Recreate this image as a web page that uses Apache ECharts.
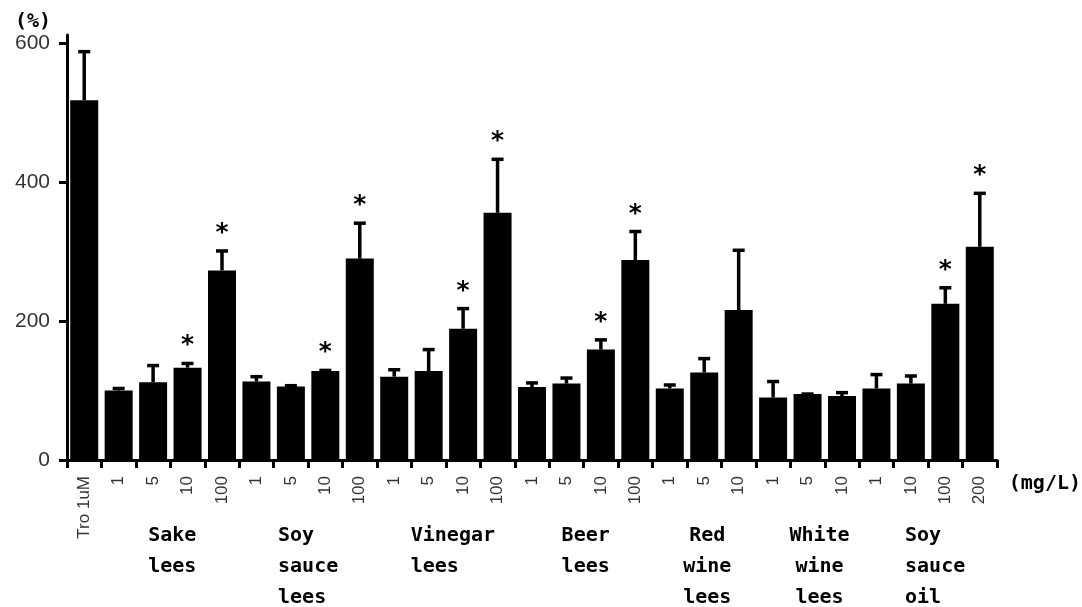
<!DOCTYPE html>
<html>
<head>
<meta charset="utf-8">
<style>
  html, body { margin: 0; padding: 0; background: #fff; }
  #chart { width: 1082px; height: 607px; }
</style>
<script src="https://cdn.jsdelivr.net/npm/echarts@6/dist/echarts.min.js"></script>
</head>
<body>
<div id="chart"></div>
<script>
// concentrations (mg/L) along the x axis
const categories = [
  'Tro 1uM',
  '1', '5', '10', '100',
  '1', '5', '10', '100',
  '1', '5', '10', '100',
  '1', '5', '10', '100',
  '1', '5', '10',
  '1', '5', '10',
  '1', '10', '100', '200',
];
// mean (%) and upper error
const means = [
  518,
  100, 112, 133, 273,
  113, 106, 128, 290,
  120, 128, 189, 356,
  105, 110, 159, 288,
  103, 126, 216,
  90, 95, 92,
  103, 110, 225, 307,
];
const errors = [
  70,
  3, 24, 6, 28,
  7, 1, 1, 51,
  10, 31, 29, 77,
  6, 8, 14, 41,
  5, 20, 86,
  23, 0, 5,
  20, 11, 23, 77,
];
// 1 = marked with *
const marked = [
  0,
  0, 0, 1, 1,
  0, 0, 1, 1,
  0, 0, 1, 1,
  0, 0, 1, 1,
  0, 0, 0,
  0, 0, 0,
  0, 0, 1, 1,
];
// sample groups: label, first and last category index
const groupNames = ['Sake\nlees', 'Soy  \nsauce\nlees ', 'Vinegar\nlees   ', 'Beer\nlees',
  'Red\nwine\nlees', 'White\nwine\nlees', 'Soy  \nsauce\noil  '];
const groupStart = [1, 5, 9, 13, 17, 20, 23];
const groupEnd = [4, 8, 12, 16, 19, 22, 26];
const yTicks = [0, 200, 400, 600];

// small horizontal nudges for the group text blocks (px)
const groupNudge = [2, 0, 7, 2, 3, 12, 7];

const chart = echarts.init(document.getElementById('chart'));
const monoFont = "'DejaVu Sans Mono', 'Liberation Mono', monospace";
const sansFont = "'Liberation Sans', Arial, sans-serif";

const errorData = means.map((m, i) => [i, m, errors[i], marked[i]]);

function renderError(params, api) {
  const i = api.value(0);
  const m = api.value(1);
  const e = api.value(2);
  const star = api.value(3);
  const base = api.coord([i, m]);
  const top = api.coord([i, m + e]);
  const style = { stroke: '#000', lineWidth: 3.5 };
  const children = [
    { type: 'line', shape: { x1: base[0], y1: base[1], x2: top[0], y2: top[1] }, style },
    { type: 'line', shape: { x1: top[0] - 6, y1: top[1], x2: top[0] + 6, y2: top[1] }, style },
  ];
  if (star) {
    children.push({
      type: 'text',
      style: {
        text: '*',
        x: top[0],
        y: top[1] - 5,
        align: 'center',
        verticalAlign: 'bottom',
        font: 'bold 25px ' + monoFont,
        fill: '#000',
      },
    });
  }
  return { type: 'group', children };
}

const option = {
  animation: false,
  grid: { left: 67, right: 85, top: 35, bottom: 147 },
  xAxis: {
    type: 'category',
    data: categories,
    axisLine: { lineStyle: { color: '#000', width: 3 } },
    axisTick: { show: true, length: 8, lineStyle: { color: '#000', width: 3 } },
    axisLabel: {
      interval: 0,
      rotate: 90,
      margin: 16,
      fontFamily: sansFont,
      fontSize: 17,
      color: '#333',
    },
  },
  yAxis: {
    type: 'value',
    min: 0,
    max: 612,
    name: '(%)',
    nameLocation: 'end',
    nameGap: 3,
    nameTextStyle: {
      fontFamily: monoFont,
      fontWeight: 'bold',
      fontSize: 20,
      color: '#000',
      align: 'right',
      padding: [0, 16, 0, 0],
    },
    splitLine: { show: false },
    axisLine: { show: true, lineStyle: { color: '#000', width: 3 } },
    axisTick: { show: true, length: 8, customValues: yTicks, lineStyle: { color: '#000', width: 3 } },
    axisLabel: {
      customValues: yTicks,
      margin: 17,
      fontFamily: sansFont,
      fontSize: 21,
      color: '#333',
    },
  },
  series: [
    {
      type: 'bar',
      data: means,
      barWidth: 28,
      itemStyle: { color: '#000' },
      z: 2,
    },
    {
      type: 'custom',
      renderItem: renderError,
      data: errorData,
      encode: { x: 0, y: 1 },
      z: 3,
    },
  ],
};

chart.setOption(option);

// group names under the tick labels, centred on each group
const groupGraphics = groupNames.map((name, g) => {
  const x0 = chart.convertToPixel({ xAxisIndex: 0 }, groupStart[g]);
  const x1 = chart.convertToPixel({ xAxisIndex: 0 }, groupEnd[g]);
  return {
    type: 'text',
    x: (x0 + x1) / 2 + groupNudge[g],
    y: 520,
    style: {
      text: name,
      align: 'center',
      verticalAlign: 'top',
      font: 'bold 20px ' + monoFont,
      lineHeight: 31,
      fill: '#000',
    },
  };
});
// unit of the x axis, right of the axis end, a little below it
const axisEnd = chart.convertToPixel({ xAxisIndex: 0 }, categories.length - 1) + 17;
const axisY = chart.convertToPixel({ yAxisIndex: 0 }, 0);
groupGraphics.push({
  type: 'text',
  x: axisEnd + 12,
  y: axisY + 24,
  style: {
    text: '(mg/L)',
    align: 'left',
    verticalAlign: 'middle',
    font: 'bold 20px ' + monoFont,
    fill: '#000',
  },
});
chart.setOption({ graphic: groupGraphics });

window.addEventListener('resize', () => {
  chart.resize();
});
</script>
</body>
</html>
